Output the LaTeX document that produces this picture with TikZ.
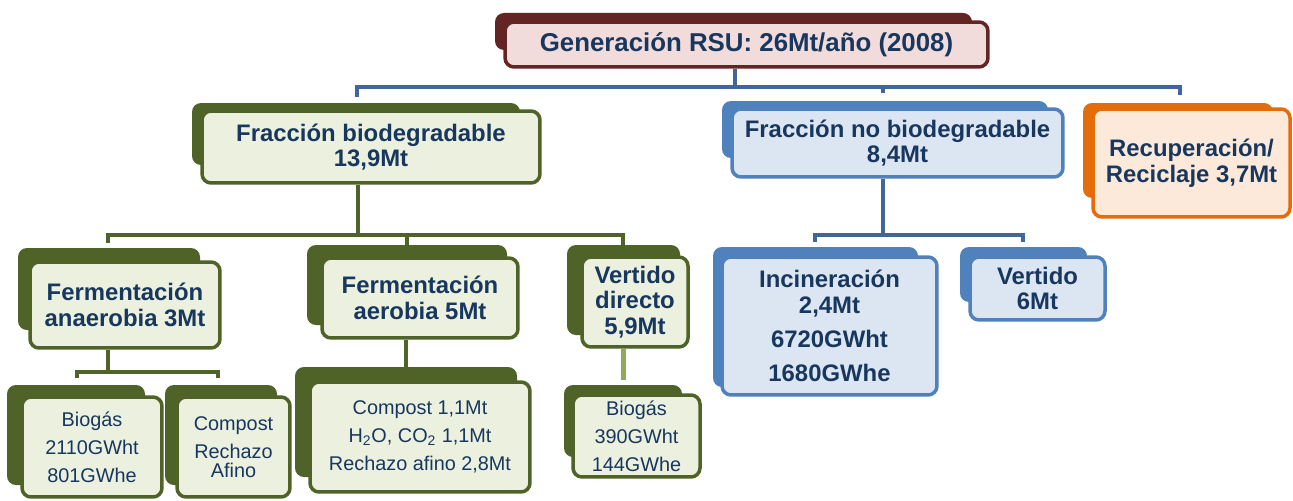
\documentclass[tikz,border=0pt]{standalone}
\usepackage{fontspec}
\setmainfont{Liberation Sans}
\definecolor{redD}{HTML}{632523}
\definecolor{redL}{HTML}{F2DCDB}
\definecolor{grnD}{HTML}{4F6228}
\definecolor{grnL}{HTML}{EBF1DE}
\definecolor{bluD}{HTML}{4F81BD}
\definecolor{bluL}{HTML}{DCE6F2}
\definecolor{bluC}{HTML}{41679A}
\definecolor{orD}{HTML}{E46C0A}
\definecolor{orL}{HTML}{FDE9D9}
\definecolor{txtc}{HTML}{17375E}
\definecolor{grnC}{HTML}{8FAA5A}
\newcommand\topfont{\fontsize{14.7}{16}\selectfont\bfseries}
\newcommand\bigfont{\fontsize{13.6}{14.6}\selectfont\bfseries}
\newcommand\smallfont{\fontsize{11.3}{15.9}\selectfont}
\tikzset{
  frontbox/.style={line width=0.07cm, rounded corners=0.18cm, inner sep=0pt, align=center, text=txtc},
  rbox/.style={frontbox, draw=redD, fill=redL, font=\topfont},
  gbox/.style={frontbox, draw=grnD, fill=grnL, font=\bigfont},
  gsbox/.style={frontbox, draw=grnD, fill=grnL, font=\smallfont},
  bbox/.style={frontbox, draw=bluD, fill=bluL, font=\bigfont},
  obox/.style={frontbox, draw=orD, fill=orL, font=\bigfont},
  backbox/.style={rounded corners=0.18cm},
  rback/.style={backbox, fill=redD},
  gback/.style={backbox, fill=grnD},
  bback/.style={backbox, fill=bluD},
  oback/.style={backbox, fill=orD},
  bluline/.style={draw=bluC, line width=0.08cm},
  grnline/.style={draw=grnD, line width=0.08cm},
  lgrnline/.style={draw=grnC, line width=0.1cm},
}
\begin{document}
\begin{tikzpicture}[x=0.02cm, y=-0.02cm]
\useasboundingbox (0,0) rectangle (1293,500);
\fill[white] (0,0) rectangle (1293,500);

% back boxes
\fill[rback] (495,13) rectangle (972,50);
\fill[gback] (192,103) rectangle (520,165);
\fill[bback] (722,101) rectangle (1048,158);
\fill[oback] (1083,103) rectangle (1273,198);
\fill[gback] (18,248) rectangle (200,330);
\fill[gback] (307,245) rectangle (507,325);
\fill[gback] (567,245) rectangle (680,335);
\fill[bback] (713,247) rectangle (918,387);
\fill[bback] (960,247) rectangle (1087,302);
\fill[gback] (7,385) rectangle (145,485);
\fill[gback] (165,385) rectangle (277,485);
\fill[gback] (295,367) rectangle (517,477);
\fill[gback] (564,385) rectangle (682,457);

% front boxes
\node[rbox, minimum width=9.66cm, minimum height=0.9cm] (top) at (746.5,44.5) {Generación RSU: 26Mt/año (2008)};
\node[gbox, minimum width=6.76cm, minimum height=1.44cm] (fb) at (371,147) {Fracción biodegradable\\13,9Mt};
\node[bbox, minimum width=6.62cm, minimum height=1.36cm] (fnb) at (897.5,143) {Fracción no biodegradable\\8,4Mt};
\node[obox, minimum width=3.94cm, minimum height=2.16cm] (rec) at (1191.5,163) {Recuperación/\\Reciclaje 3,7Mt};
\node[gbox, minimum width=3.8cm, minimum height=1.72cm] (fan) at (125,305) {Fermentación\\anaerobia 3Mt};
\node[gbox, minimum width=3.92cm, minimum height=1.6cm] (fae) at (420,298) {Fermentación\\aerobia 5Mt};
\node[gbox, minimum width=2.12cm, minimum height=1.8cm] (vd) at (635,302) {Vertido\\directo\\5,9Mt};
\node[bbox, minimum width=4.3cm, minimum height=2.76cm] (inc) at (829.5,326) {Incineración\\2,4Mt\\[5pt]6720GWht\\[5pt]1680GWhe};
\node[bbox, minimum width=2.7cm, minimum height=1.26cm] (ver) at (1037.5,288.5) {Vertido\\6Mt};
\node[gsbox, minimum width=2.8cm, minimum height=2cm] (bio1) at (92,447) {Biogás\\2110GWht\\801GWhe};
\node[gsbox, minimum width=2.26cm, minimum height=2cm] (comp1) at (233.5,447) {Compost\\Rechazo\\[-5pt]Afino};
\node[gsbox, minimum width=4.4cm, minimum height=2.2cm] (comp2) at (420,437) {Compost 1,1Mt\\H\textsubscript{2}O, CO\textsubscript{2} 1,1Mt\\Rechazo afino 2,8Mt};
\node[gsbox, minimum width=2.54cm, minimum height=1.64cm] (bio2) at (636.5,436) {Biogás\\390GWht\\144GWhe};

% blue connectors
\coordinate (j0) at (735,87);
\coordinate (jL) at (357,87);
\coordinate (jR) at (1180,87);
\coordinate (jM) at (883,87);
\draw[bluline] (j0 |- top.south) -- (j0);
\draw[bluline] ([yshift=-0.2cm]jL) -- (jL) -- (jR) -- ([yshift=-0.16cm]jR);
\draw[bluline] (jM) -- ([yshift=-0.12cm]jM);
\coordinate (k0) at (883,235);
\coordinate (kL) at (815,235);
\coordinate (kR) at (1023,235);
\draw[bluline] (k0 |- fnb.south) -- (k0);
\draw[bluline] ([yshift=-0.14cm]kL) -- (kL) -- (kR) -- ([yshift=-0.14cm]kR);

% green connectors
\coordinate (g0) at (358,235);
\coordinate (gL) at (108,235);
\coordinate (gM) at (407,235);
\coordinate (gR) at (623,235);
\draw[grnline] (g0 |- fb.south) -- (g0);
\draw[grnline] ([yshift=-0.16cm]gL) -- (gL) -- (gR) -- ([yshift=-0.2cm]gR);
\draw[grnline] (gM) -- ([yshift=-0.2cm]gM);
\coordinate (h0) at (108,372);
\coordinate (hL) at (77,372);
\coordinate (hR) at (218,372);
\draw[grnline] (h0 |- fan.south) -- (h0);
\draw[grnline] ([yshift=-0.12cm]hL) -- (hL) -- (hR) -- ([yshift=-0.12cm]hR);
\coordinate (a0) at (406,367);
\draw[grnline] (a0 |- fae.south) -- (a0);
\coordinate (v0) at (623,380);
\draw[lgrnline] (v0 |- vd.south) -- (v0);
\end{tikzpicture}
\end{document}
